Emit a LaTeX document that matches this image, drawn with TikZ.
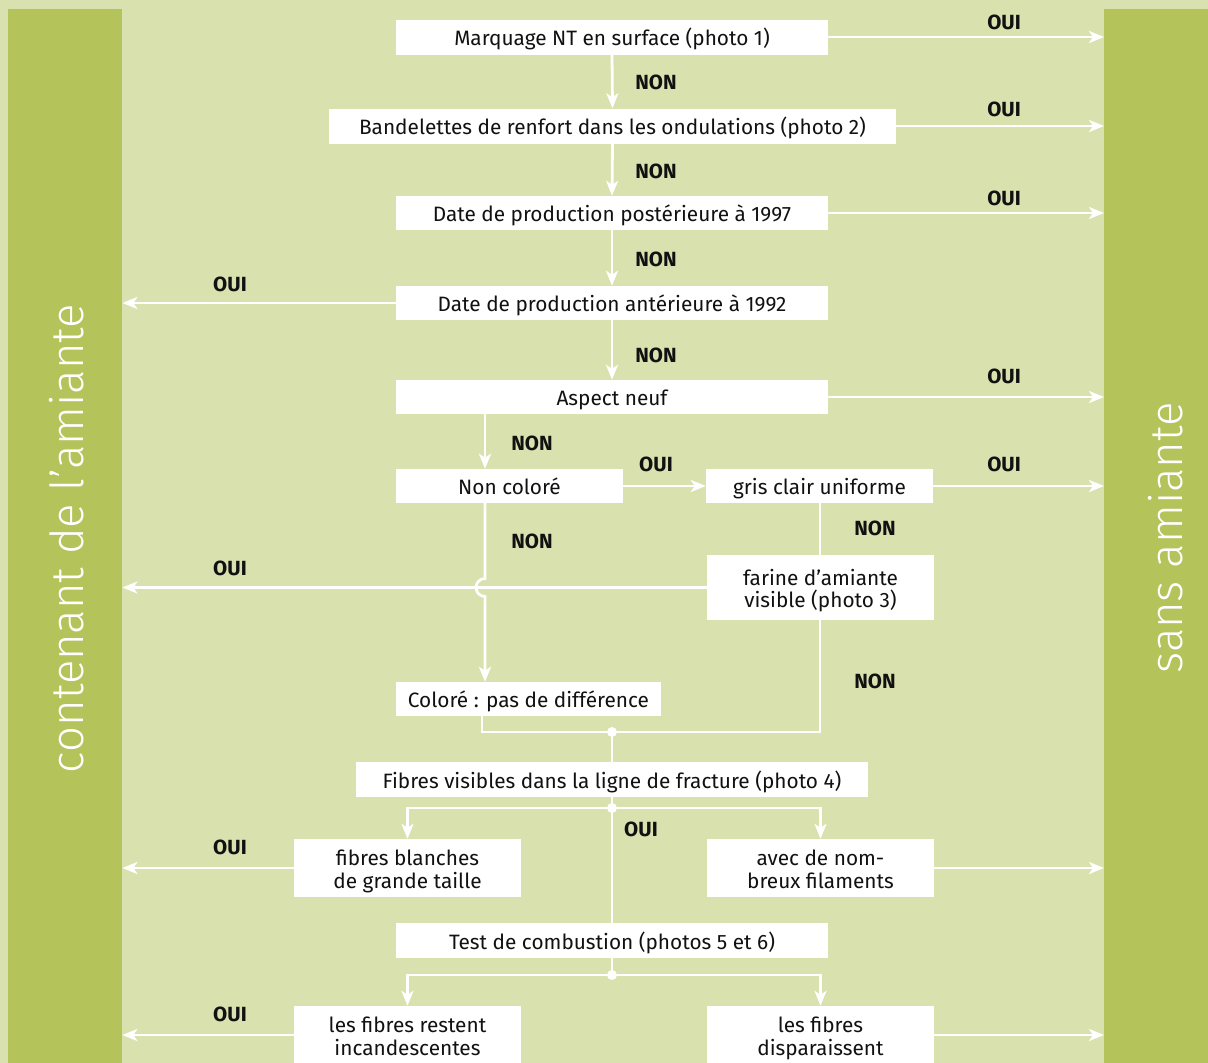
\documentclass[tikz,border=0pt]{standalone}
\usepackage{fontspec}
\setmainfont{Fira Sans}
\newfontfamily\lightfont{Fira Sans Light}
\usetikzlibrary{arrows.meta,calc}
\definecolor{bgc}{HTML}{D9E1AE}
\definecolor{barc}{HTML}{B4C45A}
\definecolor{txt}{HTML}{111111}
\begin{document}
\begin{tikzpicture}[x=1pt,y=-1pt,
  box/.style={fill=white, inner sep=0pt, text=txt, align=center,
    font=\fontsize{20.8}{22.5}\selectfont, text height=19pt, text depth=2pt},
  box2/.style={box, text height=41pt, text depth=1pt},
  lab/.style={text=txt, inner sep=0pt, font=\bfseries\fontsize{20.5}{22}\selectfont},
  conn/.style={draw=white, line width=2.8pt},
  arr/.style={conn, -{Stealth[length=15pt,width=12pt,inset=4pt]}},
  dot/.style={circle, fill=white, inner sep=0pt, minimum size=10pt},
  bar/.style={fill=barc, inner sep=0pt, anchor=north west, minimum height=1070pt},
  side/.style={rotate=90, text=white, inner sep=0pt, font=\lightfont\fontsize{45.5}{46}\selectfont}]
\useasboundingbox (0,0) rectangle (1208,1063);
\clip (0,0) rectangle (1208,1063);
\fill[bgc] (0,0) rectangle (1208,1063);
% side bars
\node[bar, minimum width=114pt] (lbar) at (8,9) {};
\node[bar, minimum width=110pt] (rbar) at (1104,9) {};
\node[side] (ltxt) at (67,538.5) {contenant de l’amiante};
\node[side] (rtxt) at (1166,538) {sans amiante};
% boxes
\node[box, minimum width=432pt, minimum height=35pt] (b1) at (612,37) {Marquage NT en surface (photo 1)};
\node[box, minimum width=567pt, minimum height=35pt] (b2) at (612.5,126) {Bandelettes de renfort dans les ondulations (photo 2)};
\node[box, minimum width=432pt, minimum height=34pt] (b3) at (612,213) {Date de production postérieure à 1997};
\node[box, minimum width=432pt, minimum height=34pt] (b4) at (612,303) {Date de production antérieure à 1992};
\node[box, minimum width=432pt, minimum height=34pt] (b5) at (612,397) {Aspect neuf};
\node[box, minimum width=227pt, minimum height=34pt] (b6) at (509.5,486) {Non coloré};
\node[box, minimum width=227pt, minimum height=34pt] (b7) at (819.5,486) {gris clair uniforme};
\node[box2, minimum width=227pt, minimum height=65pt] (b8) at (820.5,587.5) {farine d’amiante\\visible (photo 3)};
\node[box, minimum width=265pt, minimum height=34pt] (b9) at (528.5,699) {Coloré : pas de différence};
\node[box, minimum width=512pt, minimum height=35pt] (b10) at (612,779.5) {Fibres visibles dans la ligne de fracture (photo 4)};
\node[box2, minimum width=227pt, minimum height=58pt] (b11) at (407.5,868) {fibres blanches\\de grande taille};
\node[box2, minimum width=227pt, minimum height=58pt] (b12) at (820.5,868) {avec de nom-\\breux filaments};
\node[box, minimum width=432pt, minimum height=35pt] (b13) at (612,940.5) {Test de combustion (photos 5 et 6)};
\node[box2, minimum width=227pt, minimum height=58pt] (b14) at (407.5,1035) {les fibres restent\\incandescentes};
\node[box2, minimum width=227pt, minimum height=58pt] (b15) at (820.5,1035) {les fibres\\disparaissent};
% helper coordinates
\coordinate (vx) at (485,0);
\coordinate (vx2) at (482,0);
\coordinate (vx3) at (820,0);
\coordinate (j1) at (612,732);
\coordinate (j2) at (612,808);
\coordinate (j3) at (612,975);
% main vertical chain
\draw[arr] (b1.south) -- (b2.north);
\draw[arr] (b2.south) -- (b3.north);
\draw[arr] (b3.south) -- (b4.north);
\draw[arr] (b4.south) -- (b5.north);
% right OUI arrows
\draw[arr] (b1.east) -- (b1.east -| rbar.west);
\draw[arr] (b2.east) -- (b2.east -| rbar.west);
\draw[arr] (b3.east) -- (b3.east -| rbar.west);
\draw[arr] (b5.east) -- (b5.east -| rbar.west);
\draw[arr] (b7.east) -- (b7.east -| rbar.west);
\draw[arr] (b12.east) -- (b12.east -| rbar.west);
\draw[arr] (b15.east) -- (b15.east -| rbar.west);
% left OUI arrows
\draw[arr] (b4.west) -- (b4.west -| lbar.east);
\draw[arr] (b8.west) -- (b8.west -| lbar.east);
\draw[arr] (b11.west) -- (b11.west -| lbar.east);
\draw[arr] (b14.west) -- (b14.west -| lbar.east);
% Aspect neuf -> Non colore
\draw[arr] (b5.south -| vx) -- (b6.north -| vx);
\draw[arr] (b6.east) -- (b7.west);
\draw[conn] (b7.south -| vx3) -- (b8.north -| vx3);
% Non colore -> Colore with jump over the farine line
\draw[arr] (b6.south -| vx) -- ($(b8.west -| vx)+(0,-9)$)
  arc[start angle=90, end angle=270, radius=9pt] -- (b9.north -| vx);
% merge to Fibres
\draw[conn] (b9.south -| vx2) |- (j1) -| (b8.south -| vx3);
\draw[conn] (j1) -- (b10.north);
\draw[conn] (b10.south) -- (j2) -- (b13.north);
\draw[arr] (j2) -| (b11.north);
\draw[arr] (j2) -| (b12.north);
\draw[conn] (b13.south) -- (j3);
\draw[arr] (j3) -| (b14.north);
\draw[arr] (j3) -| (b15.north);
\node[dot] (d1) at (j1) {};
\node[dot] (d2) at (j2) {};
\node[dot] (d3) at (j3) {};
% labels
\node[lab] (n1) at (656,82) {NON};
\node[lab] (n2) at (656,171) {NON};
\node[lab] (n3) at (656,259) {NON};
\node[lab] (n4) at (656,355) {NON};
\node[lab] (n5) at (532,443) {NON};
\node[lab] (n6) at (532,541) {NON};
\node[lab] (n7) at (875,528) {NON};
\node[lab] (n8) at (875,681) {NON};
\node[lab] (o1) at (1004,22) {OUI};
\node[lab] (o2) at (1004,109) {OUI};
\node[lab] (o3) at (1004,198) {OUI};
\node[lab] (o4) at (1004,376) {OUI};
\node[lab] (o5) at (1004,464) {OUI};
\node[lab] (o6) at (656,464) {OUI};
\node[lab] (o7) at (230,284) {OUI};
\node[lab] (o8) at (230,568) {OUI};
\node[lab] (o9) at (230,847) {OUI};
\node[lab] (o10) at (230,1014) {OUI};
\node[lab] (o11) at (641,829) {OUI};
\end{tikzpicture}
\end{document}
